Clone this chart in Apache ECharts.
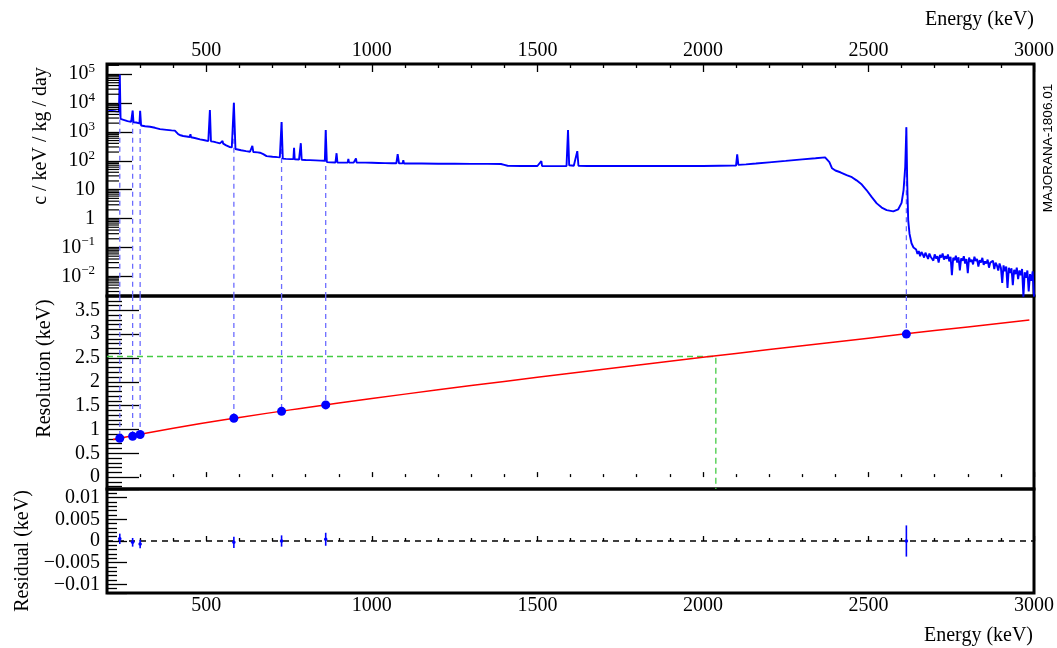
<!DOCTYPE html>
<html><head><meta charset="utf-8">
<script src="https://cdn.jsdelivr.net/npm/echarts@6/dist/echarts.min.js"></script>
<style>html,body{margin:0;padding:0;background:#fff}#c{width:1057px;height:648px}</style>
</head><body><div id="c"></div>
<script>
// ---------------- data ----------------
const E_MIN = 200, E_MAX = 3000;
const Y0_MIN = 0.0021, Y0_MAX = 222000;
const Y1_MIN = -0.25, Y1_MAX = 3.8;
const Y2_MIN = -0.012, Y2_MAX = 0.012;

// Spectrum (energy keV, counts / keV / kg / day)
const specE = [204,215,228,236,238.6,241,250,262,273,277.4,280,288,290,292,298,300.1,303,315,330,345,360,380,395,405,410,415,422,430,440,450,452,454,465,481,495,506,510.8,514,521,530,541,547,549,551,560,570,577,583.2,588,592,605,620,632,639,642,655,662,672,682,700,715,722,727.3,731,740,755,763,765,767,780,785.4,788,800,813,830,845,858,860.6,864,875,890,893.4,896,910,927,929,931,945,952,954,965,980,982,984,1000,1020,1040,1060,1074,1078,1082,1093,1095,1097,1120,1150,1200,1250,1300,1350,1390,1400,1410,1450,1500,1512,1514,1540,1570,1588,1592.5,1596,1610,1620.5,1624,1650,1700,1750,1806,1808,1810,1850,1900,1950,2000,2050,2090,2100,2103.5,2107,2130,2160,2200,2250,2300,2340,2369,2375,2382,2390,2400,2415,2434,2450,2464,2480,2494,2510,2525,2540,2555,2575,2590,2600,2606,2611,2614.5,2617,2620,2624,2630,2636,2640,
2644,2648,2652,2656,2660,2664,2668,2672,2676,2680,2684,2688,2692,2696,2700,2704,2708,2712,2716,2720,2724,2728,2732,2736,2740,2744,2748,2752,2756,2760,2764,2768,2772,2776,2780,2784,2788,2792,2796,2800,2804,2808,2812,2816,2820,2824,2828,2832,2836,2840,2844,2848,2852,2856,2860,2864,2868,2872,2876,2880,2884,2888,2892,2896,2900,2904,2908,2912,2916,2920,2924,2928,2932,2936,2940,2944,2948,2952,2956,2960,2964,2968,2972,2976,2980,2984,2988,2992,2996,3000];
const specC = [5400,5300,5100,5000,95000,2800,2600,2350,2200,5400,2150,2100,2400,2000,1950,5300,1650,1560,1500,1380,1240,1170,1120,1100,1000,830,760,716,690,660,830,650,610,550,510,480,5650,470,460,430,400,395,480,390,340,300,290,10200,255,245,230,215,205,325,200,195,190,170,145,138,133,131,2190,118,116,114,114,283,112,110,405,108,106,105,103,101,100,1150,90,88,87,182,87,86,86,115,86,86,120,86,86,86,98,86,85,84,83,82,82,170,82,81,105,80,80,80,79,79,78,78,77,72,67,66,66,98,66,65,65,66,1150,70,67,215,67,66,66,66,66,72,66,66,66,66,66,67,68,68,166,72,75,80,88,99,112,122,131,125,90,55,46,40,32,27,21,15,9.7,5.5,3.35,2.4,1.97,1.78,2.1,3.5,9.7,60,1450,20,0.89,0.3,0.14,0.1,0.093,
0.085,0.06,0.075,0.05,0.07,0.058,0.045,0.066,0.052,0.04,0.062,0.048,0.055,0.035,0.058,0.042,0.05,0.03,0.055,0.045,0.062,0.038,0.05,0.041,0.057,0.033,0.048,0.011,0.044,0.036,0.052,0.03,0.046,0.016,0.042,0.035,0.05,0.028,0.04,0.013,0.045,0.032,0.038,0.026,0.048,0.034,0.04,0.022,0.036,0.03,0.044,0.025,0.033,0.028,0.038,0.02,0.03,0.026,0.035,0.018,0.03,0.024,0.016,0.028,0.02,0.006,0.024,0.015,0.022,0.004,0.02,0.013,0.019,0.005,0.017,0.012,0.02,0.008,0.016,0.011,0.018,0.002,0.014,0.009,0.016,0.003,0.012,0.007,0.015,0.002];

// Calibration peaks
const calibE    = [238.6, 277.4, 300.1, 583.2, 727.3, 860.6, 2614.5];
const calibPeak = [95000, 5400, 5300, 10200, 2190, 1150, 1450];
const calibRes  = [0.816, 0.858, 0.893, 1.234, 1.38, 1.515, 3.0];

// Fitted resolution curve
const fitE   = [218, 400, 600, 800, 1000, 1200, 1400, 1600, 1800, 2000, 2200, 2400, 2600, 2800, 2986];
const fitRes = [0.787, 1.025, 1.251, 1.456, 1.648, 1.831, 2.008, 2.179, 2.348, 2.513, 2.675, 2.836, 2.995, 3.152, 3.297];

// Residuals
const residual    = [0.0005, -0.0003, -0.0007, -0.0003, 0.0, 0.0004, 0.0];
const residualErr = [0.0012, 0.001, 0.001, 0.0013, 0.0013, 0.0015, 0.0036];

// Q-value marker
const qbbE = 2039, qbbRes = 2.53;

// Log-axis minor tick values
const logMinorTicks = [0.003,0.004,0.005,0.006,0.007,0.008,0.009,
  0.02,0.03,0.04,0.05,0.06,0.07,0.08,0.09,
  0.2,0.3,0.4,0.5,0.6,0.7,0.8,0.9,
  2,3,4,5,6,7,8,9,
  20,30,40,50,60,70,80,90,
  200,300,400,500,600,700,800,900,
  2000,3000,4000,5000,6000,7000,8000,9000,
  20000,30000,40000,50000,60000,70000,80000,90000,
  200000];

// ---------------- chart ----------------
const SERIF = "'Liberation Serif','DejaVu Serif',serif";
const BLUE = '#0000ff', DASHBLUE = '#6b6bff', GREEN = '#44cc44';
const chart = echarts.init(document.getElementById('c'), null, {renderer: 'canvas'});

const txt = {fontFamily: SERIF, fontSize: 20, color: '#000'};
const tickStyle = {color: '#000', width: 1.3};

function xAxisCfg(gi, pos, showLabels, withName) {
  const a = {
    gridIndex: gi, type: 'value', position: pos, min: E_MIN, max: E_MAX, splitNumber: 6,
    axisLine: {show: false},
    axisTick: {show: true, inside: true, length: pos === 'top' ? 8 : 5, lineStyle: tickStyle},
    minorTick: {show: true, splitNumber: 5, length: pos === 'top' ? 4 : 3, lineStyle: tickStyle},
    axisLabel: Object.assign({show: showLabels, margin: 3, showMinLabel: false, formatter: v => String(v)}, txt),
    splitLine: {show: false}
  };
  if (withName && pos === 'top') {
    a.name = 'Energy (keV)';
    a.nameLocation = 'end';
    a.nameGap = 0;
    a.nameMoveOverlap = false;
    a.nameTextStyle = Object.assign({align: 'right', verticalAlign: 'bottom', padding: [0, 0, 34, 0]}, txt);
  } else if (withName) {
    a.name = 'Energy (keV)';
    a.nameLocation = 'middle';
    a.nameGap = 43;
    a.nameMoveOverlap = false;
    a.nameTextStyle = Object.assign({align: 'center', verticalAlign: 'middle', padding: [0, 0, 0, 816]}, txt);
  }
  return a;
}

function logLabel(v) {
  const p = Math.round(Math.log10(v));
  if (p === 0) return '{b|1}';
  if (p === 1) return '{b|10}';
  return '{b|10}{e|' + (p < 0 ? '\u2212' : '') + Math.abs(p) + '}';
}

const series = [];

// dashed calibration lines (top panel & middle panel)
calibE.forEach((e, i) => {
  series.push({type: 'line', xAxisIndex: 0, yAxisIndex: 0, z: 1, symbol: 'none', silent: true,
    data: [[e, calibPeak[i]], [e, Y0_MIN]],
    lineStyle: {color: DASHBLUE, width: 1.3, type: [5, 4]}});
  series.push({type: 'line', xAxisIndex: 1, yAxisIndex: 1, z: 1, symbol: 'none', silent: true,
    data: [[e, Y1_MAX], [e, calibRes[i]]],
    lineStyle: {color: DASHBLUE, width: 1.3, type: [5, 4]}});
});

// spectrum
series.push({type: 'line', xAxisIndex: 0, yAxisIndex: 0, z: 3, symbol: 'none', silent: true,
  data: specE.map((e, i) => [e, specC[i]]),
  lineStyle: {color: BLUE, width: 1.9}});

// log minor ticks
series.push({type: 'custom', xAxisIndex: 0, yAxisIndex: 0, z: 4, silent: true,
  data: logMinorTicks.map(v => [E_MIN, v]),
  renderItem: (p, api) => {
    const c = api.coord([api.value(0), api.value(1)]);
    return {type: 'line', shape: {x1: c[0], y1: c[1], x2: c[0] + 12, y2: c[1]},
      style: {stroke: '#000', lineWidth: 1.2}};
  }});

// Qbb green dashed
series.push({type: 'line', xAxisIndex: 1, yAxisIndex: 1, z: 1, symbol: 'none', silent: true,
  data: [[E_MIN, qbbRes], [qbbE, qbbRes], [qbbE, Y1_MIN]],
  lineStyle: {color: GREEN, width: 1.3, type: [6, 4]}});

// fit curve
series.push({type: 'line', xAxisIndex: 1, yAxisIndex: 1, z: 2, symbol: 'none', smooth: true, silent: true,
  data: fitE.map((e, i) => [e, fitRes[i]]),
  lineStyle: {color: '#ff0000', width: 1.5}});

// resolution points
series.push({type: 'scatter', xAxisIndex: 1, yAxisIndex: 1, z: 3, silent: true,
  symbol: 'circle', symbolSize: 9,
  data: calibE.map((e, i) => [e, calibRes[i]]),
  itemStyle: {color: BLUE, opacity: 1}});

// residual zero line
series.push({type: 'line', xAxisIndex: 2, yAxisIndex: 2, z: 1, symbol: 'none', silent: true,
  data: [[E_MIN, 0], [E_MAX, 0]],
  lineStyle: {color: '#000', width: 1.3, type: [6, 5]}});

// residual error bars
series.push({type: 'custom', xAxisIndex: 2, yAxisIndex: 2, z: 3, silent: true,
  data: calibE.map((e, i) => [e, residual[i], residualErr[i]]),
  renderItem: (p, api) => {
    const e = api.value(0), r = api.value(1), s = api.value(2);
    const a = api.coord([e, r - s]), b = api.coord([e, r + s]), c = api.coord([e, r]);
    return {type: 'group', children: [
      {type: 'line', shape: {x1: a[0], y1: a[1], x2: b[0], y2: b[1]}, style: {stroke: BLUE, lineWidth: 1.6}},
      {type: 'circle', shape: {cx: c[0], cy: c[1], r: 1.8}, style: {fill: BLUE}}
    ]};
  }});

const gridCommon = {left: 107, right: 23, show: true, borderColor: '#000', borderWidth: 3, backgroundColor: 'transparent'};

chart.setOption({
  animation: false,
  backgroundColor: '#fff',
  grid: [
    Object.assign({top: 64, height: 232}, gridCommon),
    Object.assign({top: 296, height: 193}, gridCommon),
    Object.assign({top: 489, height: 104}, gridCommon)
  ],
  xAxis: [
    xAxisCfg(0, 'top', true, true),
    xAxisCfg(1, 'bottom', false, false),
    xAxisCfg(2, 'bottom', true, true)
  ],
  yAxis: [
    {gridIndex: 0, type: 'log', logBase: 10, min: Y0_MIN, max: Y0_MAX, splitNumber: 8,
     axisLine: {show: false},
     axisTick: {show: true, inside: true, length: 25, lineStyle: tickStyle},
     splitLine: {show: false},
     axisLabel: {margin: 12, showMinLabel: false, showMaxLabel: false, formatter: logLabel,
       rich: {b: {fontFamily: SERIF, fontSize: 20, color: '#000', lineHeight: 24},
              e: {fontFamily: SERIF, fontSize: 13, color: '#000', lineHeight: 13, verticalAlign: 'top'}}},
     name: 'c / keV / kg / day', nameLocation: 'middle', nameRotate: 90, nameGap: 62,
     nameTextStyle: Object.assign({align: 'center', verticalAlign: 'middle', padding: [0, 0, 0, 88]}, txt)},
    {gridIndex: 1, type: 'value', min: Y1_MIN, max: Y1_MAX, splitNumber: 8,
     axisLine: {show: false},
     axisTick: {show: true, inside: true, length: 32, lineStyle: tickStyle},
     minorTick: {show: true, splitNumber: 5, length: 15, lineStyle: tickStyle},
     splitLine: {show: false},
     axisLabel: Object.assign({margin: 7, showMinLabel: false, showMaxLabel: false}, txt),
     name: 'Resolution (keV)', nameLocation: 'middle', nameRotate: 90, nameGap: 62,
     nameTextStyle: Object.assign({align: 'center', verticalAlign: 'middle', padding: [0, 0, 0, 48]}, txt)},
    {gridIndex: 2, type: 'value', min: Y2_MIN, max: Y2_MAX, splitNumber: 5,
     axisLine: {show: false},
     axisTick: {show: true, inside: true, length: 20, lineStyle: tickStyle},
     minorTick: {show: true, splitNumber: 5, length: 10, lineStyle: tickStyle},
     splitLine: {show: false},
     axisLabel: Object.assign({margin: 7, showMinLabel: false, showMaxLabel: false,
       formatter: v => String(v).replace('-', '\u2212')}, txt),
     name: 'Residual (keV)', nameLocation: 'middle', nameRotate: 90, nameGap: 62,
     nameTextStyle: Object.assign({align: 'center', verticalAlign: 'middle', padding: [0, 20, 0, 0]}, txt)}
  ],
  graphic: [{type: 'text', x: 1048, y: 148, rotation: Math.PI / 2, silent: true,
    style: {text: 'MAJORANA-1806.01', font: '13.5px "Liberation Sans", Arial, sans-serif', fill: '#000',
      align: 'center', verticalAlign: 'middle'}}],
  series: series
});
</script></body></html>
